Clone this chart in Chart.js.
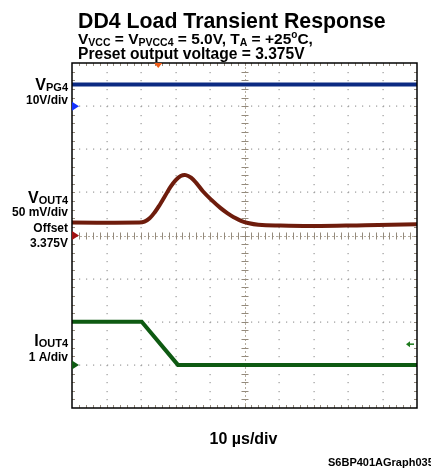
<!DOCTYPE html>
<html>
<head>
<meta charset="utf-8">
<script src="https://cdn.jsdelivr.net/npm/chart.js@4.4.1/dist/chart.umd.min.js"></script>
<style>
  html, body { margin: 0; padding: 0; background: #fff; }
  #wrap { width: 431px; height: 468px; overflow: hidden; }
</style>
</head>
<body>
<div id="wrap"><canvas id="scope" width="431" height="468"></canvas></div>
<script>
// time base: 10 divisions of 10 us
const timeMaxUs = 100;
const timeLabel = '10 \u00b5s/div';

// channel settings (units/div, offset in divisions from centre)
const vpg4PerDiv = 10;
const vpg4OffsetDiv = 3;
const vout4PerDivMv = 50;
const vout4OffsetDiv = 0;
const iout4PerDiv = 1;
const iout4OffsetDiv = -3;

// VPG4 (V)
const vpg4Time = [0, 100];
const vpg4Volts = [5, 5];

// VOUT4 deviation from 3.375V (mV)
const vout4Time = [0, 19.5, 21, 22.5, 24, 25.5, 27, 28.5, 30, 31.5, 33, 34.5, 36, 38, 40.5, 43, 45, 47, 49, 51, 54, 60, 70, 85, 100];
const vout4Mv = [15, 15, 16, 20, 27, 36, 46, 56, 64, 69, 70, 67, 61, 51, 41, 32, 26, 21, 17, 14.5, 12.5, 11.5, 11, 12, 13];

// IOUT4 (A)
const iout4Time = [0, 20.2, 30.7, 100];
const iout4Amps = [1, 1, 0, 0];

const triggerTimeUs = 25;
const triggerArrowDiv = -2.52;

function toPoints(times, vals, perDiv, offset) {
  return times.map((t, i) => ({ x: t, y: offset + vals[i] / perDiv }));
}

const FONT = '"Liberation Sans", Arial, sans-serif';

// text with subscripts: parts = [text, size, dy]
function richText(ctx, parts, x, y, align) {
  let total = 0;
  parts.forEach(p => {
    ctx.font = 'bold ' + p[1] + 'px ' + FONT;
    total += ctx.measureText(p[0]).width;
  });
  let cx = align === 'right' ? x - total : (align === 'center' ? x - total / 2 : x);
  ctx.textAlign = 'left';
  parts.forEach(p => {
    ctx.font = 'bold ' + p[1] + 'px ' + FONT;
    ctx.fillText(p[0], cx, y + (p[2] || 0));
    cx += ctx.measureText(p[0]).width;
  });
}

const scopeDecor = {
  id: 'scopeDecor',
  beforeDatasetsDraw(chart) {
    const { ctx, chartArea: a } = chart;
    const w = a.right - a.left, h = a.bottom - a.top;
    const cx = a.left + w / 2, cy = a.top + h / 2;
    ctx.save();
    ctx.fillStyle = '#9a9a9a';
    // dotted grid
    for (let i = 1; i < 10; i++) {
      if (i === 5) continue;
      const x = a.left + i * w / 10;
      for (let k = 1; k < 40; k++) ctx.fillRect(Math.round(x) - 0.5, Math.round(a.top + k * h / 40), 1.2, 1.2);
    }
    for (let j = 1; j < 8; j++) {
      if (j === 4) continue;
      const y = a.top + j * h / 8;
      for (let k = 1; k < 50; k++) ctx.fillRect(Math.round(a.left + k * w / 50), Math.round(y) - 0.5, 1.2, 1.2);
    }
    // centre cross with ticks
    ctx.strokeStyle = '#b5ada0';
    ctx.lineWidth = 1;
    ctx.setLineDash([2, 2]);
    ctx.beginPath();
    ctx.moveTo(a.left, Math.round(cy) + 0.5); ctx.lineTo(a.right, Math.round(cy) + 0.5);
    ctx.moveTo(Math.round(cx) + 0.5, a.top); ctx.lineTo(Math.round(cx) + 0.5, a.bottom);
    ctx.stroke();
    ctx.setLineDash([]);
    ctx.strokeStyle = '#948a7c';
    ctx.beginPath();
    for (let k = 1; k < 50; k++) {
      const x = Math.round(a.left + k * w / 50) + 0.5;
      ctx.moveTo(x, cy - 3); ctx.lineTo(x, cy + 4);
      ctx.moveTo(x, a.top); ctx.lineTo(x, a.top + 3);
      ctx.moveTo(x, a.bottom); ctx.lineTo(x, a.bottom - 3);
    }
    for (let k = 1; k < 40; k++) {
      const y = Math.round(a.top + k * h / 40) + 0.5;
      ctx.moveTo(cx - 3, y); ctx.lineTo(cx + 4, y);
      ctx.moveTo(a.left, y); ctx.lineTo(a.left + 3, y);
      ctx.moveTo(a.right, y); ctx.lineTo(a.right - 3, y);
    }
    ctx.stroke();
    ctx.restore();
  },
  afterDatasetsDraw(chart) {
    const { ctx, chartArea: a, scales } = chart;
    ctx.save();
    // frame
    ctx.strokeStyle = '#000';
    ctx.lineWidth = 1.5;
    ctx.strokeRect(a.left, a.top, a.right - a.left, a.bottom - a.top);

    // channel ground markers
    const marker = (div, color) => {
      const y = scales.y.getPixelForValue(div);
      ctx.fillStyle = color;
      ctx.beginPath();
      ctx.moveTo(a.left, y - 4.5); ctx.lineTo(a.left + 7, y); ctx.lineTo(a.left, y + 4.5);
      ctx.closePath(); ctx.fill();
    };
    marker(vpg4OffsetDiv, '#1432ff');
    marker(vout4OffsetDiv, '#a01010');
    marker(iout4OffsetDiv, '#0e5a12');

    // trigger position
    const tx = scales.x.getPixelForValue(triggerTimeUs);
    ctx.fillStyle = '#f05a14';
    ctx.beginPath();
    ctx.moveTo(tx - 4, a.top); ctx.lineTo(tx + 4, a.top); ctx.lineTo(tx, a.top + 5);
    ctx.closePath(); ctx.fill();

    // trigger level arrow
    const ty = scales.y.getPixelForValue(triggerArrowDiv);
    ctx.strokeStyle = '#1d7a1d';
    ctx.fillStyle = '#1d7a1d';
    ctx.lineWidth = 1.5;
    ctx.beginPath();
    ctx.moveTo(a.right - 9, ty); ctx.lineTo(a.right - 3, ty); ctx.stroke();
    ctx.beginPath();
    ctx.moveTo(a.right - 11, ty); ctx.lineTo(a.right - 7, ty - 3); ctx.lineTo(a.right - 7, ty + 3);
    ctx.closePath(); ctx.fill();

    // texts
    ctx.fillStyle = '#000';
    ctx.textBaseline = 'alphabetic';
    richText(ctx, [['DD4 Load Transient Response', 21.3]], 78, 28, 'left');
    richText(ctx, [['V', 15.5], ['VCC', 10.5, 2], [' = V', 15.5], ['PVCC4', 10.5, 2], [' = 5.0V, T', 15.5],
      ['A', 10.5, 2], [' = +25', 15.5], ['o', 10, -6], ['C,', 15.5]], 78, 44, 'left');
    richText(ctx, [['Preset output voltage = 3.375V', 15.6]], 78, 59, 'left');

    const lx = 68;
    richText(ctx, [['V', 16], ['PG4', 11, 1]], lx, 90, 'right');
    richText(ctx, [['10V/div', 12]], lx, 104, 'right');
    richText(ctx, [['V', 16], ['OUT4', 11, 1]], lx, 203, 'right');
    richText(ctx, [['50 mV/div', 12]], lx, 216, 'right');
    richText(ctx, [['Offset', 12]], lx, 232, 'right');
    richText(ctx, [['3.375V', 12]], lx, 247, 'right');
    richText(ctx, [['I', 16], ['OUT4', 11, 1]], lx, 346, 'right');
    richText(ctx, [['1 A/div', 12]], lx, 361, 'right');

    richText(ctx, [[timeLabel, 16]], (a.left + a.right) / 2 - 1, 444, 'center');
    richText(ctx, [['S6BP401AGraph035', 11]], 328, 466, 'left');
    ctx.restore();
  }
};

new Chart(document.getElementById('scope').getContext('2d'), {
  type: 'line',
  data: {
    datasets: [
      {
        label: 'VPG4',
        data: toPoints(vpg4Time, vpg4Volts, vpg4PerDiv, vpg4OffsetDiv),
        borderColor: '#0c2a82',
        borderWidth: 4,
        pointRadius: 0
      },
      {
        label: 'VOUT4',
        data: toPoints(vout4Time, vout4Mv, vout4PerDivMv, vout4OffsetDiv),
        borderColor: '#6e1c0c',
        borderWidth: 4,
        pointRadius: 0,
        tension: 0.4
      },
      {
        label: 'IOUT4',
        data: toPoints(iout4Time, iout4Amps, iout4PerDiv, iout4OffsetDiv),
        borderColor: '#0e5a12',
        borderWidth: 4,
        pointRadius: 0
      }
    ]
  },
  options: {
    responsive: false,
    animation: false,
    layout: { padding: { left: 72, right: 14, top: 63, bottom: 60 } },
    plugins: { legend: { display: false }, tooltip: { enabled: false }, title: { display: false } },
    scales: {
      x: { type: 'linear', min: 0, max: timeMaxUs, display: false },
      y: { type: 'linear', min: -4, max: 4, display: false }
    }
  },
  plugins: [scopeDecor]
});
</script>
</body>
</html>
